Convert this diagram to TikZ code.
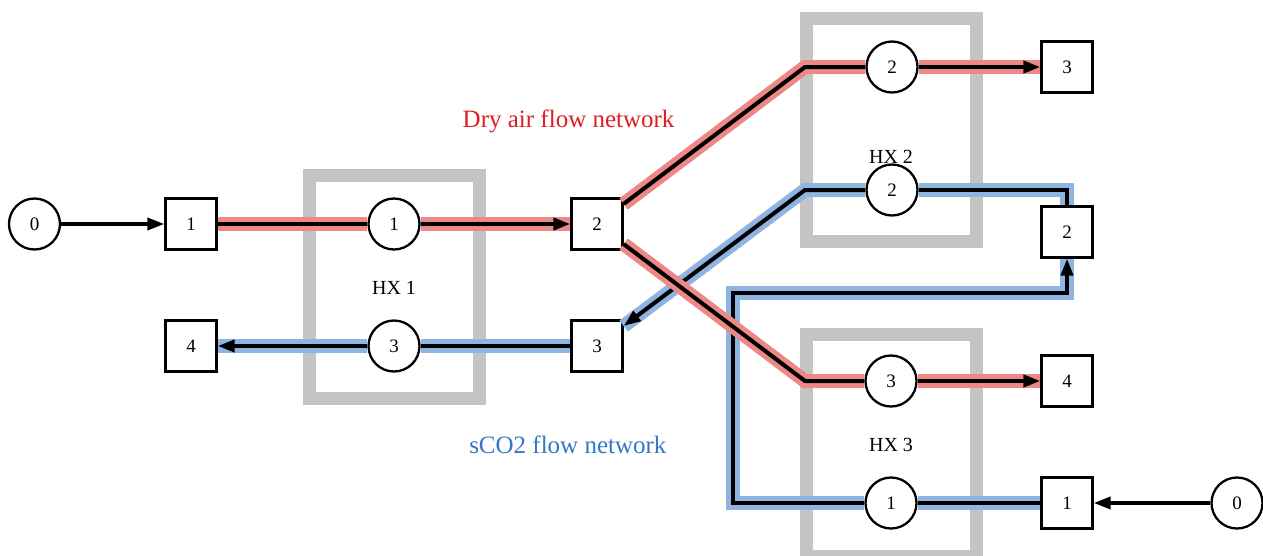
\documentclass[tikz,border=0pt]{standalone}
\usepackage{fontspec}
\setmainfont{Liberation Serif}
\usetikzlibrary{arrows.meta}
\definecolor{hxgray}{RGB}{196,196,196}
\definecolor{airband}{RGB}{238,136,134}
\definecolor{co2band}{RGB}{142,180,226}
\definecolor{airtext}{RGB}{222,30,36}
\definecolor{co2text}{RGB}{52,118,200}
\tikzset{
  circnode/.style={circle,draw=black,line width=2.3pt,fill=white,minimum size=51pt,inner sep=0pt,font=\fontsize{19}{19}\selectfont},
  sqnode/.style={rectangle,draw=black,line width=2.3pt,fill=white,minimum size=51pt,inner sep=0pt,font=\fontsize{19}{19}\selectfont},
  hxbox/.style={draw=hxgray,line width=13pt},
  hxlabel/.style={font=\fontsize{20}{20}\selectfont},
  tip/.style={-{Triangle[length=17pt,width=12pt]}},
  plainflow/.style={draw=black,line width=3.6pt},
  airflow/.style={draw=black,line width=4pt,preaction={draw=airband,line width=14pt,-}},
  co2flow/.style={draw=black,line width=4pt,preaction={draw=co2band,line width=14pt,-}},
}
\begin{document}
\begin{tikzpicture}[x=1pt,y=-1pt]
\useasboundingbox (0,0) rectangle (1263,555);
\begin{scope}
\clip (0,0) rectangle (1263,555);
% heat exchanger boxes
\draw[hxbox] (309.5,175.5) rectangle (479,398);
\draw[hxbox] (806.5,18.5) rectangle (976,241);
\draw[hxbox] (806.5,334) rectangle (976,556);
\end{scope}
\node[hxlabel] (hx1) at (394,288) {HX 1};
\node[hxlabel] (hx2) at (891,157) {HX 2};
\node[hxlabel] (hx3) at (891,445) {HX 3};
\node[font=\fontsize{25}{25}\selectfont,text=airtext,anchor=base east] (airlbl) at (678,127) {Dry air flow network};
\node[font=\fontsize{25}{25}\selectfont,text=co2text,anchor=base east] (co2lbl) at (670,453) {sCO2 flow network};
% nodes
\node[circnode] (c0l) at (34.5,224) {0};
\node[sqnode] (s1l) at (191,224) {1};
\node[circnode] (c1a) at (394,224) {1};
\node[sqnode] (s2m) at (597,224) {2};
\node[sqnode] (s3m) at (597,346) {3};
\node[circnode] (c3a) at (394,346) {3};
\node[sqnode] (s4l) at (191,346) {4};
\node[circnode] (c2a) at (892,67) {2};
\node[sqnode] (s3r) at (1067,67) {3};
\node[circnode] (c2b) at (892,190) {2};
\node[sqnode] (s2r) at (1067,232) {2};
\node[circnode] (c3b) at (891,381) {3};
\node[sqnode] (s4r) at (1067,381) {4};
\node[circnode] (c1b) at (891,503) {1};
\node[sqnode] (s1r) at (1067,503) {1};
\node[circnode] (c0r) at (1237,503) {0};
\coordinate (b1) at (805,67);
\coordinate (b2) at (805,190);
\coordinate (b3) at (805,381);
\coordinate (loopL) at (733,293);
% sCO2 network
\draw[plainflow,tip] (c0r) -- (s1r);
\draw[co2flow] (s1r) -- (c1b);
\draw[co2flow,tip] (c1b) -- (c1b -| loopL) -- (loopL) -- (loopL -| s2r) -- (s2r);
\draw[co2flow] (s2r) -- (s2r |- c2b) -- (c2b);
\draw[co2flow,tip] (c2b) -- (b2) -- (s3m);
\draw[co2flow] (s3m) -- (c3a);
\draw[co2flow,tip] (c3a) -- (s4l);
% dry air network
\draw[plainflow,tip] (c0l) -- (s1l);
\draw[airflow] (s1l) -- (c1a);
\draw[airflow,tip] (c1a) -- (s2m);
\draw[airflow] (s2m) -- (b1) -- (c2a);
\draw[airflow,tip] (c2a) -- (s3r);
\draw[airflow] (s2m) -- (b3) -- (c3b);
\draw[airflow,tip] (c3b) -- (s4r);
\end{tikzpicture}
\end{document}
